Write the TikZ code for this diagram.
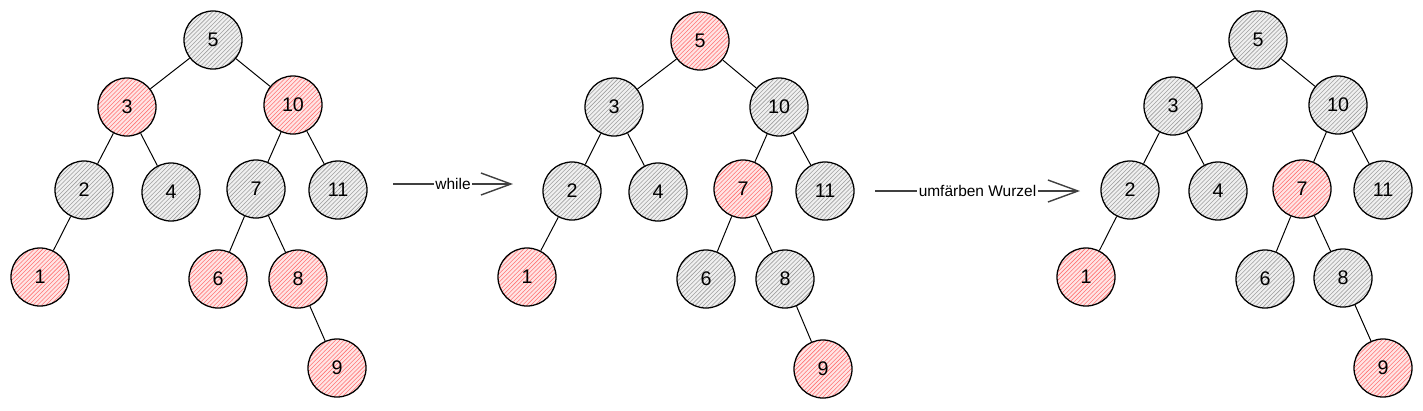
\documentclass[tikz,border=0pt]{standalone}
\usepackage{fontspec}
\setmainfont{Liberation Sans}
\usetikzlibrary{arrows.meta, patterns}

\tikzset{
  rbnode/.style={circle, draw=black, line width=0.9pt, minimum size=1.45cm, inner sep=0pt,
    font=\fontsize{14}{16}\selectfont},
  rednode/.style={rbnode, preaction={fill=red!10}, pattern=north east lines, pattern color=red!55},
  blacknode/.style={rbnode, preaction={fill=gray!12}, pattern=north east lines, pattern color=gray!75},
  treeedge/.style={draw=black, line width=0.7pt},
  flow/.style={draw=black!75, line width=1pt, -{Straight Barb[length=0.75cm, width=0.55cm, line width=1pt]}},
  steplabel/.style={fill=white, inner sep=1pt, font=\fontsize{11}{13}\selectfont}
}

\begin{document}
\begin{tikzpicture}[x=0.025cm, y=-0.025cm]
 \useasboundingbox (0,0) rectangle (1423,410);
 % tree before the loop
 \node[blacknode] (a5) at (213,40){5};
 \node[rednode] (a3) at (127,107){3};
 \node[rednode] (a10) at (293,105){10};
 \node[blacknode] (a2) at (84,190){2};
 \node[blacknode] (a4) at (171,192){4};
 \node[blacknode] (a7) at (256,189){7};
 \node[blacknode] (a11) at (338,190){11};
 \node[rednode] (a1) at (40,277){1};
 \node[rednode] (a6) at (218,279){6};
 \node[rednode] (a8) at (298,279){8};
 \node[rednode] (a9) at (337,368){9};
 % tree after the loop
 \node[rednode] (b5) at (700,41){5};
 \node[blacknode] (b3) at (614,107){3};
 \node[blacknode] (b10) at (779,107){10};
 \node[blacknode] (b2) at (572,191){2};
 \node[blacknode] (b4) at (658,192){4};
 \node[rednode] (b7) at (743,189){7};
 \node[blacknode] (b11) at (825,191){11};
 \node[rednode] (b1) at (527,277){1};
 \node[blacknode] (b6) at (706,279){6};
 \node[blacknode] (b8) at (785,279){8};
 \node[rednode] (b9) at (823,369){9};
 % tree with black root
 \node[blacknode] (c5) at (1258,40){5};
 \node[blacknode] (c3) at (1173,106){3};
 \node[blacknode] (c10) at (1338,105){10};
 \node[blacknode] (c2) at (1130,190){2};
 \node[blacknode] (c4) at (1218,191){4};
 \node[rednode] (c7) at (1302,189){7};
 \node[blacknode] (c11) at (1383,190){11};
 \node[rednode] (c1) at (1086,277){1};
 \node[blacknode] (c6) at (1265,279){6};
 \node[blacknode] (c8) at (1343,278){8};
 \node[rednode] (c9) at (1383,368){9};
 % edges
 \foreach \t in {a,b,c}{
   \foreach \p/\q in {5/3, 5/10, 3/2, 3/4, 2/1, 10/7, 10/11, 7/6, 7/8, 8/9}
     \draw[treeedge] (\t\p) -- (\t\q);
 }
 % steps
 \coordinate (s1) at (393,184);
 \coordinate (e1) at (513,184);
 \coordinate (s2) at (875,191);
 \coordinate (e2) at (1080,191);
 \draw[flow] (s1) -- node[steplabel]{while} (e1);
 \draw[flow] (s2) -- node[steplabel]{umfärben Wurzel} (e2);
\end{tikzpicture}
\end{document}
